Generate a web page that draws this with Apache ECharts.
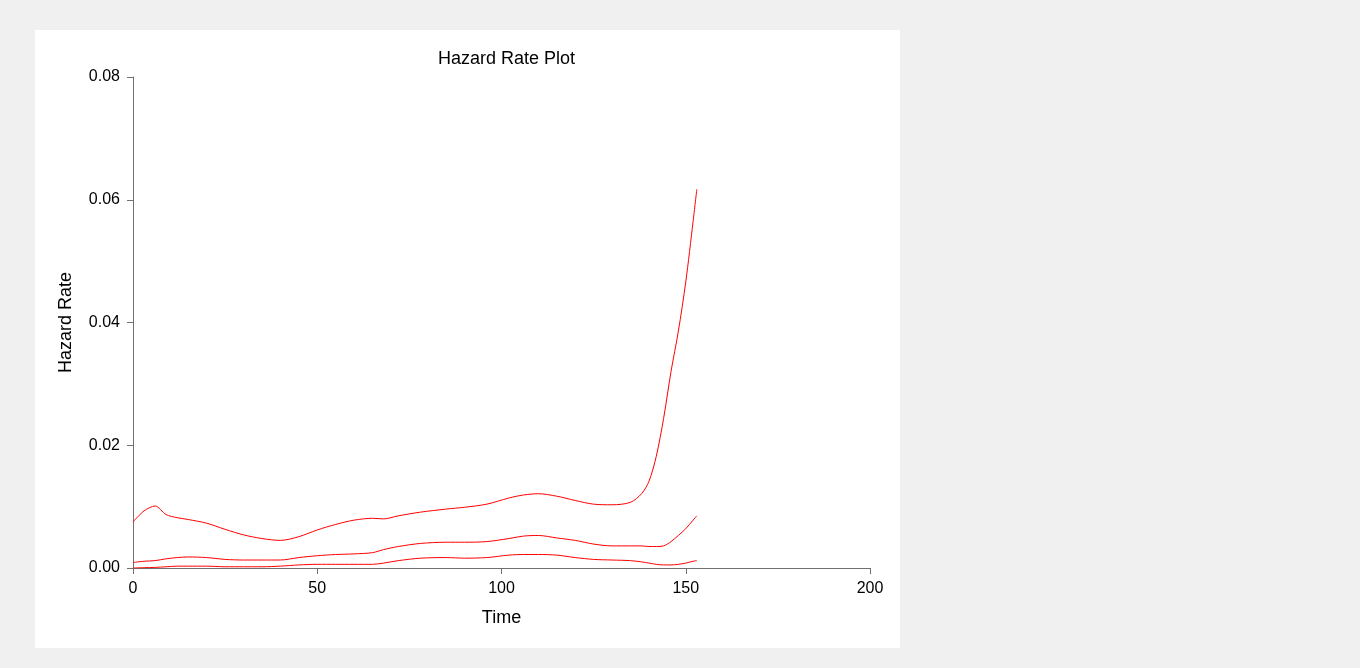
<!DOCTYPE html>
<html>
<head>
<meta charset="utf-8">
<script src="https://cdn.jsdelivr.net/npm/echarts@6/dist/echarts.min.js"></script>
<style>
html,body{margin:0;padding:0;background:#f0f0f0;}
#chart{width:1360px;height:668px;}
</style>
</head>
<body>
<div id="chart"></div>
<script>
const timePoints = [0,3,6,9,12,15,20,25,30,35,40,45,50,55,60,65,68,72,78,85,90,96,102,106,110,115,120,125,130,135,138,140,142,144,146,148,150,152,153];
const upperHazard = [0.0075,0.0093,0.0101,0.0087,0.0082,0.0079,0.0073,0.0063,0.0054,0.0048,0.0045,0.0051,0.0062,0.0071,0.0078,0.0081,0.0080,0.0085,0.0091,0.0096,0.0099,0.0104,0.0114,0.0119,0.0121,0.0117,0.0110,0.0104,0.0103,0.0107,0.0121,0.0141,0.0182,0.0244,0.0320,0.0386,0.0466,0.0565,0.0617];
const hazardEstimate = [0.0009,0.0011,0.0012,0.0015,0.0017,0.0018,0.0017,0.0014,0.0013,0.0013,0.0013,0.0017,0.0020,0.0022,0.0023,0.0025,0.0030,0.0035,0.0040,0.0042,0.0042,0.0043,0.0048,0.0052,0.0053,0.0049,0.0045,0.0039,0.0036,0.0036,0.0036,0.0035,0.0035,0.0036,0.0043,0.0053,0.0064,0.0078,0.0085];
const lowerHazard = [0.0000,0.00005,0.0001,0.0002,0.0003,0.0003,0.0003,0.0002,0.0002,0.0002,0.0003,0.0005,0.0006,0.0006,0.0006,0.0006,0.0008,0.0012,0.0016,0.0017,0.0016,0.0017,0.0021,0.0022,0.0022,0.0021,0.0017,0.0014,0.0013,0.0012,0.0010,0.0008,0.0006,0.0005,0.0005,0.0006,0.0008,0.0011,0.0012];
const xTicks = {min:0, max:200, interval:50};
const yTicks = {min:0, max:0.08, interval:0.02};

function pairs(vals){ return timePoints.map((t,i)=>[t, vals[i]]); }

const chart = echarts.init(document.getElementById('chart'));
const font = 'Arial, "Liberation Sans", sans-serif';
const axisColor = '#707070';
const lineStyle = {color:'#ff0000', width:1};
chart.setOption({
  backgroundColor:'#f0f0f0',
  animation:false,
  graphic:[{type:'rect', z:-10, shape:{x:35,y:30,width:865,height:618}, style:{fill:'#ffffff'}}],
  title:{text:'Hazard Rate Plot', left:501.5, top:45, textAlign:'center',
    textStyle:{fontFamily:font, fontSize:18, fontWeight:'normal', color:'#000'}},
  grid:{left:133, right:490, top:77, bottom:100},
  xAxis:{type:'value', min:xTicks.min, max:xTicks.max, interval:xTicks.interval,
    name:'Time', nameLocation:'middle', nameGap:41,
    nameTextStyle:{fontFamily:font, fontSize:18, color:'#000'},
    axisLine:{lineStyle:{color:axisColor}}, axisTick:{length:6, lineStyle:{color:axisColor}},
    axisLabel:{fontFamily:font, fontSize:16, color:'#000', margin:13},
    splitLine:{show:false}},
  yAxis:{type:'value', min:yTicks.min, max:yTicks.max, interval:yTicks.interval,
    name:'Hazard Rate', nameLocation:'middle', nameGap:58, nameRotate:90,
    nameTextStyle:{fontFamily:font, fontSize:18, color:'#000'},
    axisLine:{show:true, lineStyle:{color:axisColor}}, axisTick:{show:true, length:6, lineStyle:{color:axisColor}},
    axisLabel:{fontFamily:font, fontSize:16, color:'#000', margin:13, formatter:v=>v.toFixed(2)},
    splitLine:{show:false}},
  series:[
    {type:'line', data:pairs(upperHazard), smooth:0.3, showSymbol:false, lineStyle},
    {type:'line', data:pairs(hazardEstimate), smooth:0.3, showSymbol:false, lineStyle},
    {type:'line', data:pairs(lowerHazard), smooth:0.3, showSymbol:false, lineStyle}
  ]
});
</script>
</body>
</html>
